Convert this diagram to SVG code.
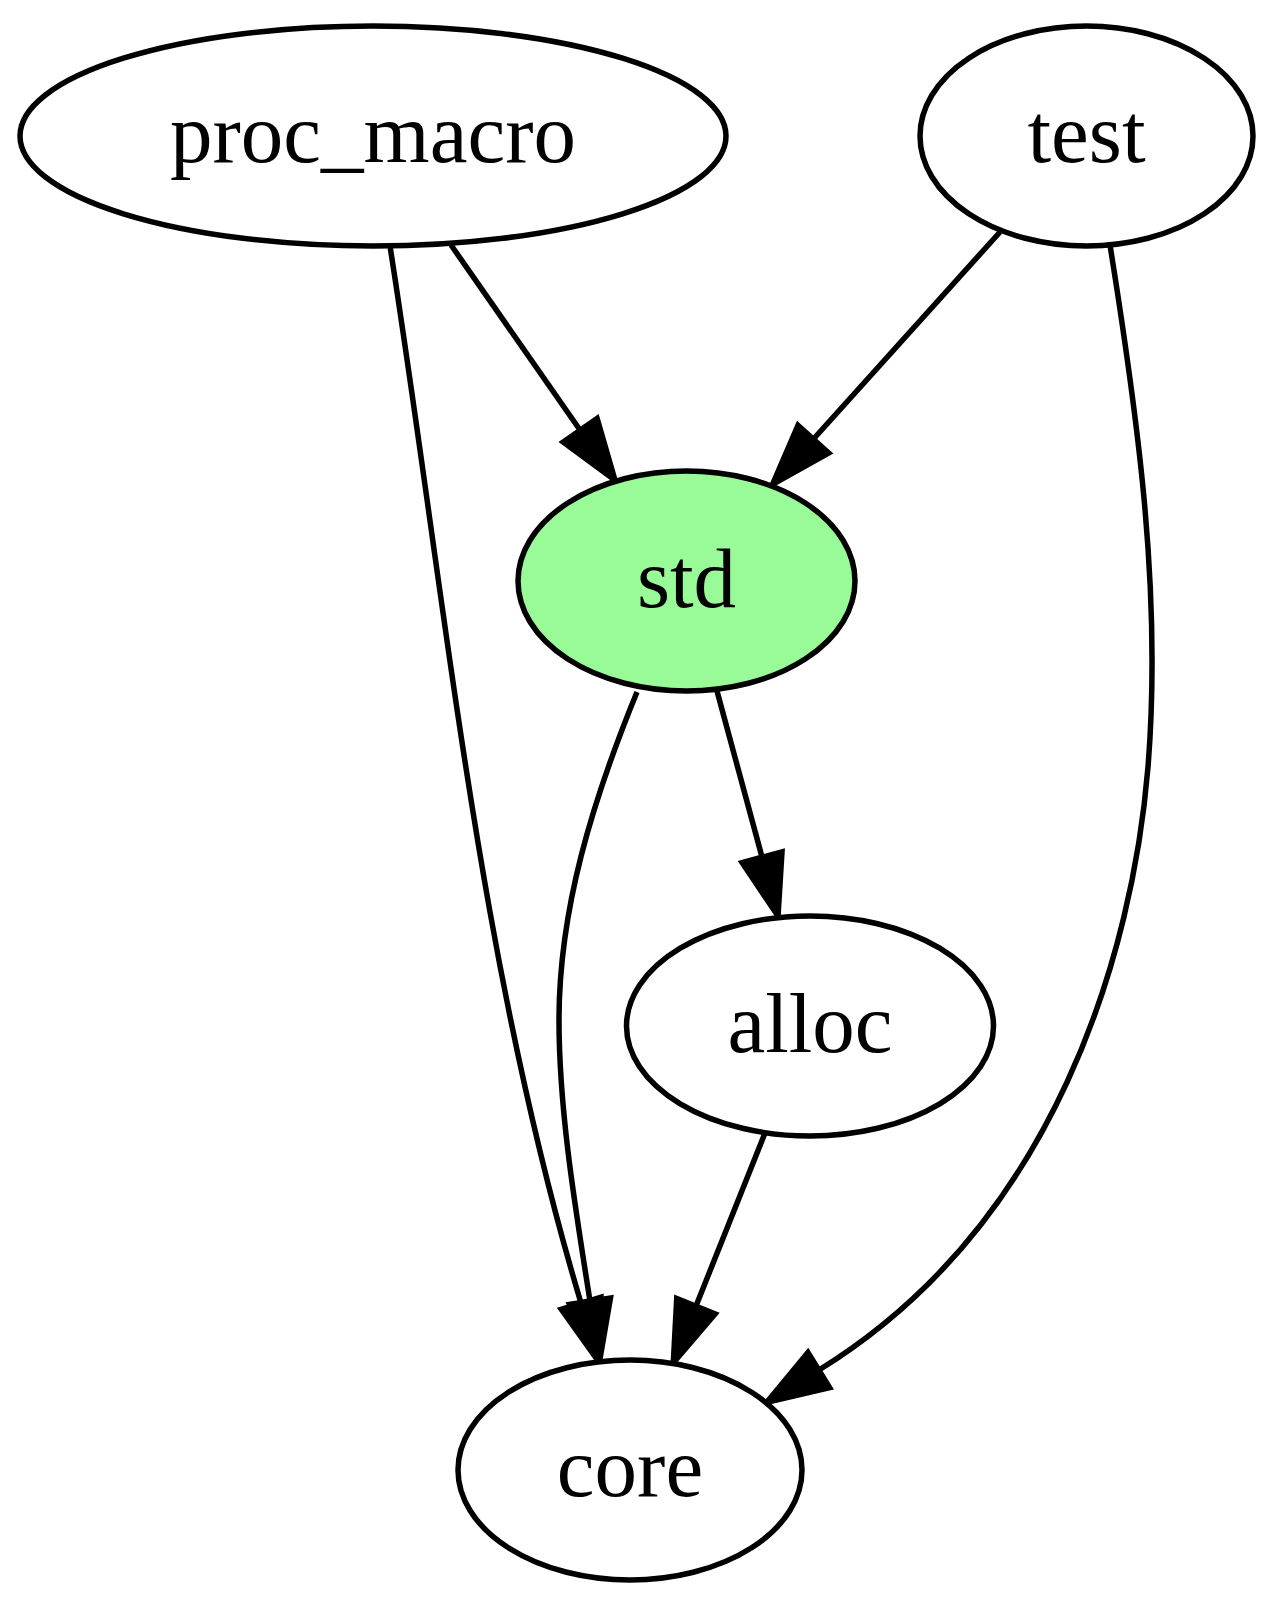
<svg xmlns="http://www.w3.org/2000/svg" width="1280" height="1608" viewBox="0 0 1280 1608">
<style>
.node ellipse{fill:#ffffff;stroke:#000;stroke-width:5.5}
.node text{font-family:"Liberation Serif","Times New Roman",serif;font-size:85px;fill:#000;text-anchor:middle}
.edge{fill:none;stroke:#000;stroke-width:5.5}
</style>
<defs>
<marker id="arrow" markerUnits="userSpaceOnUse" viewBox="-4 -26 70 52" markerWidth="70" markerHeight="52" refX="0" refY="0" orient="auto" overflow="visible">
<path d="M0,-21 L62,0 L0,21 Z" fill="#000" stroke="#000" stroke-width="5"/>
</marker>
</defs>
<rect width="1280" height="1608" fill="#fff"/>
<g id="connectors">
<path class="edge" d="M451,245 L580,430" marker-end="url(#arrow)"/>
<path class="edge" d="M390,246 C447,610 478,960 581,1303" marker-end="url(#arrow)"/>
<path class="edge" d="M637,692 C592,802 559,910 559,1020 C559,1110 575,1206 590,1301" marker-end="url(#arrow)"/>
<path class="edge" d="M717,691 L762,857" marker-end="url(#arrow)"/>
<path class="edge" d="M765,1133 L696,1306" marker-end="url(#arrow)"/>
<path class="edge" d="M1000,232 L813.5,439" marker-end="url(#arrow)"/>
<path class="edge" d="M1110,245 C1138,420 1162,593 1148,767 C1133,950 1057,1223 819,1370" marker-end="url(#arrow)"/>
</g>
<g id="proc_macro" class="node">
<ellipse cx="373" cy="136" rx="353" ry="110"/>
<text x="373" y="162">proc_macro</text>
</g>
<g id="test" class="node">
<ellipse cx="1086.5" cy="136" rx="166.5" ry="110"/>
<text x="1086.5" y="162">test</text>
</g>
<g id="std" class="node">
<ellipse cx="686.5" cy="581" rx="168.5" ry="110" style="fill:#98fb98"/>
<text x="686.5" y="607">std</text>
</g>
<g id="alloc" class="node">
<ellipse cx="810" cy="1026" rx="183.5" ry="110"/>
<text x="810" y="1052">alloc</text>
</g>
<g id="core" class="node">
<ellipse cx="630" cy="1470" rx="172" ry="110"/>
<text x="630" y="1496">core</text>
</g>
</svg>
